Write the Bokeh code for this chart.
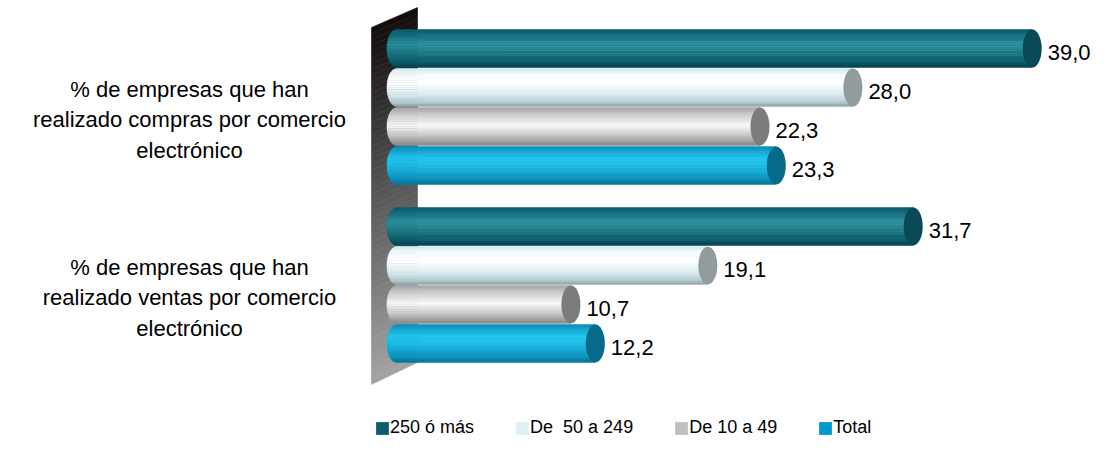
import numpy as np
from bokeh.plotting import figure
from bokeh.models import Range1d, ColumnDataSource, Legend, LegendItem
from bokeh.core.properties import value
from bokeh.embed import file_html
from bokeh.resources import INLINE

# ---------------- data ----------------
categories = [
    "% de empresas que han\nrealizado compras por comercio\nelectrónico",
    "% de empresas que han\nrealizado ventas por comercio\nelectrónico",
]
series = ["250 ó más", "De  50 a 249", "De 10 a 49", "Total"]
compras = [39.0, 28.0, 22.3, 23.3]
ventas = [31.7, 19.1, 10.7, 12.2]
values_by_cat = [compras, ventas]

# ---------------- styles ----------------
legend_colors = ["#0e5d6d", "#dcf0f5", "#c0c0c0", "#0099cc"]
shade_stops = [
    [(0.0, "#0b5b6b"), (0.12, "#106878"), (0.38, "#2b8e9c"), (0.55, "#1f7f8e"), (0.85, "#0c5d6c"), (1.0, "#06434f")],
    [(0.0, "#cfe8ee"), (0.15, "#f0fbfd"), (0.4, "#ffffff"), (0.7, "#d8eaee"), (0.9, "#b3cbd0"), (1.0, "#8ea4a9")],
    [(0.0, "#a4a4a4"), (0.2, "#cdcdcd"), (0.48, "#f8f8f8"), (0.75, "#c6c6c6"), (1.0, "#888888")],
    [(0.0, "#0a8db8"), (0.3, "#1fc3ec"), (0.5, "#1cbde6"), (0.85, "#0a93bd"), (1.0, "#07769a")],
]
cap_colors = ["#0a4a57", "#929c9e", "#7c7c7c", "#086a8a"]

FONT = "Liberation Sans"
GROUP_STEP = 4.564      # slot units between groups
BAR_H = 0.97            # bar thickness in slot units
CAP_HALF = 0.583        # half-width of end ellipse, x data units
N_STRIPS = 16


def hex2rgb(h):
    h = h.lstrip("#")
    return np.array([int(h[i:i + 2], 16) for i in (0, 2, 4)], dtype=float)


def interp(stops, t):
    for (p0, c0), (p1, c1) in zip(stops[:-1], stops[1:]):
        if p0 <= t <= p1:
            f = (t - p0) / (p1 - p0) if p1 > p0 else 0
            c = hex2rgb(c0) * (1 - f) + hex2rgb(c1) * f
            return "#%02x%02x%02x" % tuple(int(round(v)) for v in c)
    return stops[-1][1]


p = figure(width=1096, height=441,
           x_range=Range1d(-24.294, 42.945), y_range=Range1d(10.077, -1.2308),
           x_axis_location=None, y_axis_location=None,
           toolbar_location=None, output_backend="svg", min_border=0)
p.outline_line_color = None
p.grid.visible = False
p.background_fill_color = "white"
p.border_fill_color = "white"

# ---------------- back wall (gradient parallelogram) ----------------
wall_x = (-1.534, 1.288)
wall_top = (-0.538, -1.051)
wall_bot = (8.615, 8.05)
M = 60
wxs, wys, wcols = [], [], []
for k in range(M):
    t0, t1 = k / M, (k + 1) / M
    yl0 = wall_top[0] + (wall_bot[0] - wall_top[0]) * t0
    yl1 = wall_top[0] + (wall_bot[0] - wall_top[0]) * t1
    yr0 = wall_top[1] + (wall_bot[1] - wall_top[1]) * t0
    yr1 = wall_top[1] + (wall_bot[1] - wall_top[1]) * t1
    wxs.append([wall_x[0], wall_x[1], wall_x[1], wall_x[0]])
    wys.append([yl0, yr0, yr1, yl1])
    wcols.append(interp([(0.0, "#120c0c"), (0.5, "#5a5a5a"), (1.0, "#a4a4a4")], (t0 + t1) / 2))
p.patches(xs="xs", ys="ys", fill_color="c", line_color="c", line_width=0.6,
          source=ColumnDataSource(dict(xs=wxs, ys=wys, c=wcols)))

# ---------------- cylinders ----------------
bxs, bys, bcols = [], [], []
cap_x, cap_y, cap_c = [], [], []
lab_x, lab_y, lab_t = [], [], []
for g, vals in enumerate(values_by_cat):
    for i, v in enumerate(vals):
        yc = g * GROUP_STEP + i
        b = BAR_H / 2
        for j in range(N_STRIPS):
            ya = -b + BAR_H * j / N_STRIPS
            yb = -b + BAR_H * (j + 1) / N_STRIPS
            ypts = np.linspace(ya, yb, 5)
            xl = [-CAP_HALF * np.sqrt(max(0.0, 1 - (yy / b) ** 2)) for yy in ypts]
            bxs.append(list(xl) + [v, v])
            bys.append([yc + yy for yy in ypts] + [yc + yb, yc + ya])
            bcols.append(interp(shade_stops[i], (j + 0.5) / N_STRIPS))
        cap_x.append(v)
        cap_y.append(yc)
        cap_c.append(cap_colors[i])
        lab_x.append(v + 0.95)
        lab_y.append(yc + 0.1)
        lab_t.append(f"{v:.1f}".replace(".", ","))

p.patches(xs="xs", ys="ys", fill_color="c", line_color="c", line_width=0.6,
          source=ColumnDataSource(dict(xs=bxs, ys=bys, c=bcols)))
p.ellipse(x="x", y="y", width=2 * CAP_HALF, height=BAR_H, fill_color="c", line_color=None,
          source=ColumnDataSource(dict(x=cap_x, y=cap_y, c=cap_c)))
p.text(x="x", y="y", text="t", source=ColumnDataSource(dict(x=lab_x, y=lab_y, t=lab_t)),
       text_font=value(FONT), text_font_size="22px", text_color="black",
       text_align="left", text_baseline="middle")

# ---------------- category labels ----------------
cat_y = [g * GROUP_STEP + 1.5 + 0.33 for g in range(len(categories))]
p.text(x=[-12.7] * len(categories), y=cat_y, text=categories,
       text_font=value(FONT), text_font_size="22px", text_color="black",
       text_align="center", text_baseline="middle", text_line_height=1.21)

# ---------------- legend ----------------
items = []
for name, col in zip(series, legend_colors):
    r = p.rect(x=[0], y=[0], width=0, height=0, fill_color=col, line_color=None)
    items.append(LegendItem(label=name, renderers=[r]))
legend = Legend(items=items, orientation="horizontal", location=(374, 3),
                glyph_width=16, glyph_height=16, label_standoff=0, spacing=40,
                padding=0, margin=0, border_line_color=None, background_fill_alpha=0,
                label_text_font=FONT, label_text_font_size="18px", label_height=18,
                label_text_color="black")
p.add_layout(legend)

open("out.html", "w").write(file_html(p, INLINE))
